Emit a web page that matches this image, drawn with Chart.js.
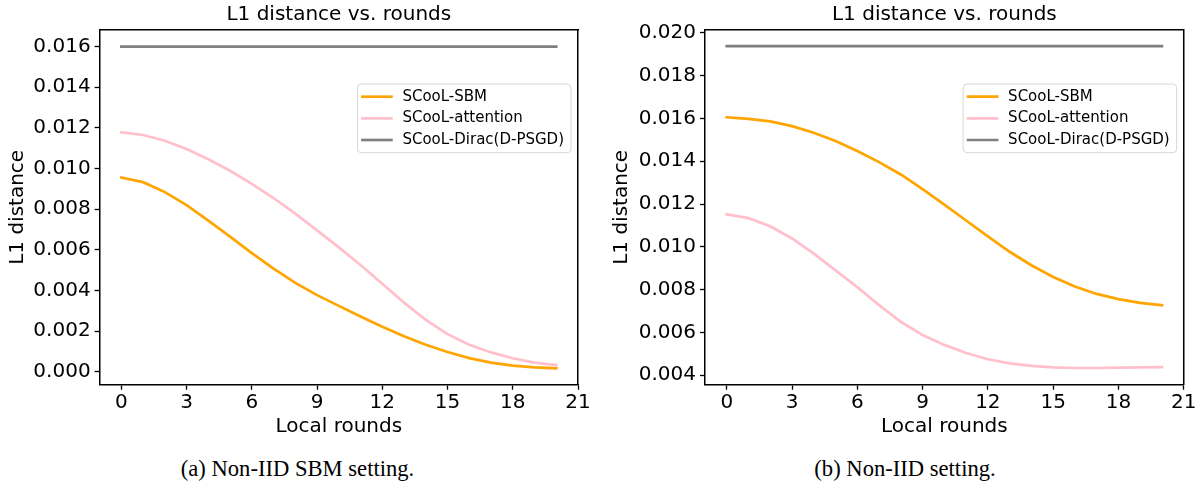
<!DOCTYPE html>
<html><head><meta charset="utf-8">
<script src="https://cdn.jsdelivr.net/npm/chart.js@4.4.0/dist/chart.umd.min.js"></script>
<style>
html,body{margin:0;padding:0;background:#fff;width:1203px;height:489px;overflow:hidden}
#c1{position:absolute;left:0;top:0}
#c2{position:absolute;left:600px;top:0}
.cap{position:absolute;top:455px;line-height:28px;font-family:"Liberation Serif","Times New Roman",serif;font-size:22.6px;color:#000;white-space:nowrap;transform:translateX(-50%)}
</style></head><body>
<canvas id="c1" width="600" height="439"></canvas>
<canvas id="c2" width="603" height="439"></canvas>
<div class="cap" style="left:297.5px">(a) Non-IID SBM setting.</div>
<div class="cap" style="left:905px">(b) Non-IID setting.</div>
<script>
// ---------- data ----------
const rounds = [0,1,2,3,4,5,6,7,8,9,10,11,12,13,14,15,16,17,18,19,20];
const seriesNames = ["SCooL-SBM", "SCooL-attention", "SCooL-Dirac(D-PSGD)"];
const xTickValues = [0,3,6,9,12,15,18,21];

// (a) Non-IID SBM setting
const aSBM = [0.00956,0.00933,0.00884,0.00820,0.00744,0.00665,0.00584,0.00507,0.00437,0.00377,0.00324,0.00272,0.00221,0.00175,0.00133,0.00097,0.00067,0.00045,0.00030,0.00021,0.00017];
const aAttention = [0.01178,0.01165,0.01137,0.01096,0.01046,0.00989,0.00925,0.00855,0.00778,0.00696,0.00612,0.00525,0.00433,0.00340,0.00255,0.00185,0.00133,0.00095,0.00066,0.00045,0.00032];
const aDirac = [0.016,0.016,0.016,0.016,0.016,0.016,0.016,0.016,0.016,0.016,0.016,0.016,0.016,0.016,0.016,0.016,0.016,0.016,0.016,0.016,0.016];
const aYTicks = [0.000,0.002,0.004,0.006,0.008,0.010,0.012,0.014,0.016];

// (b) Non-IID setting
const bSBM = [0.01605,0.01598,0.01586,0.01564,0.01533,0.01494,0.01448,0.01396,0.01338,0.01270,0.01197,0.01123,0.01049,0.00977,0.00914,0.00859,0.00815,0.00780,0.00756,0.00738,0.00727];
const bAttention = [0.01152,0.01134,0.01096,0.01039,0.00968,0.00890,0.00812,0.00728,0.00650,0.00588,0.00542,0.00504,0.00475,0.00456,0.00444,0.00437,0.00434,0.00434,0.00436,0.00437,0.00438];
const bDirac = [0.01938,0.01938,0.01938,0.01938,0.01938,0.01938,0.01938,0.01938,0.01938,0.01938,0.01938,0.01938,0.01938,0.01938,0.01938,0.01938,0.01938,0.01938,0.01938,0.01938,0.01938];
const bYTicks = [0.004,0.006,0.008,0.010,0.012,0.014,0.016,0.018,0.020];

// ---------- styling ----------
const colors = ["#FFA500", "#FFC0CB", "#808080"];
const FONT = "DejaVu Sans";
const LW = 2.7;

const legendPlugin = {
  id: 'innerLegend',
  afterDatasetsDraw(chart) {
    const ctx = chart.ctx, ca = chart.chartArea;
    ctx.save();
    ctx.font = "15px '" + FONT + "'";
    let maxW = 0;
    chart.data.datasets.forEach(d => { maxW = Math.max(maxW, ctx.measureText(d.label).width); });
    const w = 45 + maxW + 7, h = 68.7;
    const x = ca.right - 7 - w, y = ca.top + 54;
    const r = 4;
    ctx.beginPath();
    ctx.moveTo(x + r, y); ctx.lineTo(x + w - r, y); ctx.arcTo(x + w, y, x + w, y + r, r);
    ctx.lineTo(x + w, y + h - r); ctx.arcTo(x + w, y + h, x + w - r, y + h, r);
    ctx.lineTo(x + r, y + h); ctx.arcTo(x, y + h, x, y + h - r, r);
    ctx.lineTo(x, y + r); ctx.arcTo(x, y, x + r, y, r); ctx.closePath();
    ctx.fillStyle = "rgba(255,255,255,0.8)"; ctx.fill();
    ctx.lineWidth = 1; ctx.strokeStyle = "#d6d6d6"; ctx.stroke();
    chart.data.datasets.forEach((d, i) => {
      const cy = y + 12.7 + i * 21.65;
      ctx.beginPath(); ctx.moveTo(x + 5, cy); ctx.lineTo(x + 34, cy);
      ctx.strokeStyle = d.borderColor; ctx.lineWidth = LW; ctx.lineCap = 'square'; ctx.stroke();
      ctx.fillStyle = "#000"; ctx.textBaseline = "middle"; ctx.textAlign = "left";
      ctx.fillText(d.label, x + 45, cy);
    });
    ctx.restore();
  }
};

function makeChart(id, series, yTicks, yMin, yMax, padLeft, padRight, yAxisW) {
  const datasets = series.map((vals, i) => ({
    label: seriesNames[i],
    data: rounds.map((r, k) => ({x: r, y: vals[k]})),
    borderColor: colors[i], backgroundColor: colors[i],
    borderWidth: LW, pointRadius: 0, tension: 0, fill: false,
    borderCapStyle: 'square', order: 2 - i
  }));
  const tickFont = {family: FONT, size: 20};
  return new Chart(document.getElementById(id), {
    type: 'line',
    data: {datasets},
    options: {
      responsive: false, animation: false, devicePixelRatio: 1,
      layout: {padding: {left: padLeft, right: padRight, top: 0, bottom: 0}},
      plugins: {
        legend: {display: false}, tooltip: {enabled: false},
        title: {display: true, text: "L1 distance vs. rounds", color: "#000",
                font: {family: FONT, size: 20, weight: 'normal'}, padding: {top: 3, bottom: 3}, fullSize: false}
      },
      scales: {
        x: {
          type: 'linear', position: 'bottom', min: -1, max: 21,
          afterBuildTicks: ax => { ax.ticks = xTickValues.map(v => ({value: v})); },
          afterFit: ax => { ax.height = 54.3; },
          ticks: {font: tickFont, color: "#000", padding: 1, maxRotation: 0, autoSkip: false,
                  callback: v => String(v)},
          grid: {drawOnChartArea: false, drawTicks: true, tickLength: 5, tickColor: "#000", tickWidth: 1.3},
          border: {display: true, color: "#000", width: 1.5},
          title: {display: true, text: "Local rounds", color: "#000", font: tickFont, padding: 0}
        },
        y: {
          type: 'linear', position: 'left', min: yMin, max: yMax,
          afterBuildTicks: ax => { ax.ticks = yTicks.map(v => ({value: v})); },
          afterFit: ax => { ax.width = yAxisW; },
          ticks: {font: tickFont, color: "#000", padding: 4, autoSkip: false,
                  callback: v => Number(v).toFixed(3)},
          grid: {drawOnChartArea: false, drawTicks: true, tickLength: 5, tickColor: "#000", tickWidth: 1.3},
          border: {display: true, color: "#000", width: 1.5},
          title: {display: true, text: "L1 distance", color: "#000", font: tickFont, padding: 0}
        },
        xTop: {
          type: 'linear', position: 'top', min: 0, max: 1,
          afterFit: ax => { ax.height = 0; },
          ticks: {display: false}, grid: {display: false},
          border: {display: true, color: "#000", width: 1.5}
        },
        yRight: {
          type: 'linear', position: 'right', min: 0, max: 1,
          afterFit: ax => { ax.width = 0; },
          ticks: {display: false}, grid: {display: false},
          border: {display: true, color: "#000", width: 1.5}
        }
      }
    },
    plugins: [legendPlugin]
  });
}

makeChart('c1', [aSBM, aAttention, aDirac], aYTicks, -0.00064, 0.01682, 6, 22, 93.6);
makeChart('c2', [bSBM, bAttention, bDirac], bYTicks, 0.00356, 0.02013, 10, 19.3, 95);
</script>
</body></html>
